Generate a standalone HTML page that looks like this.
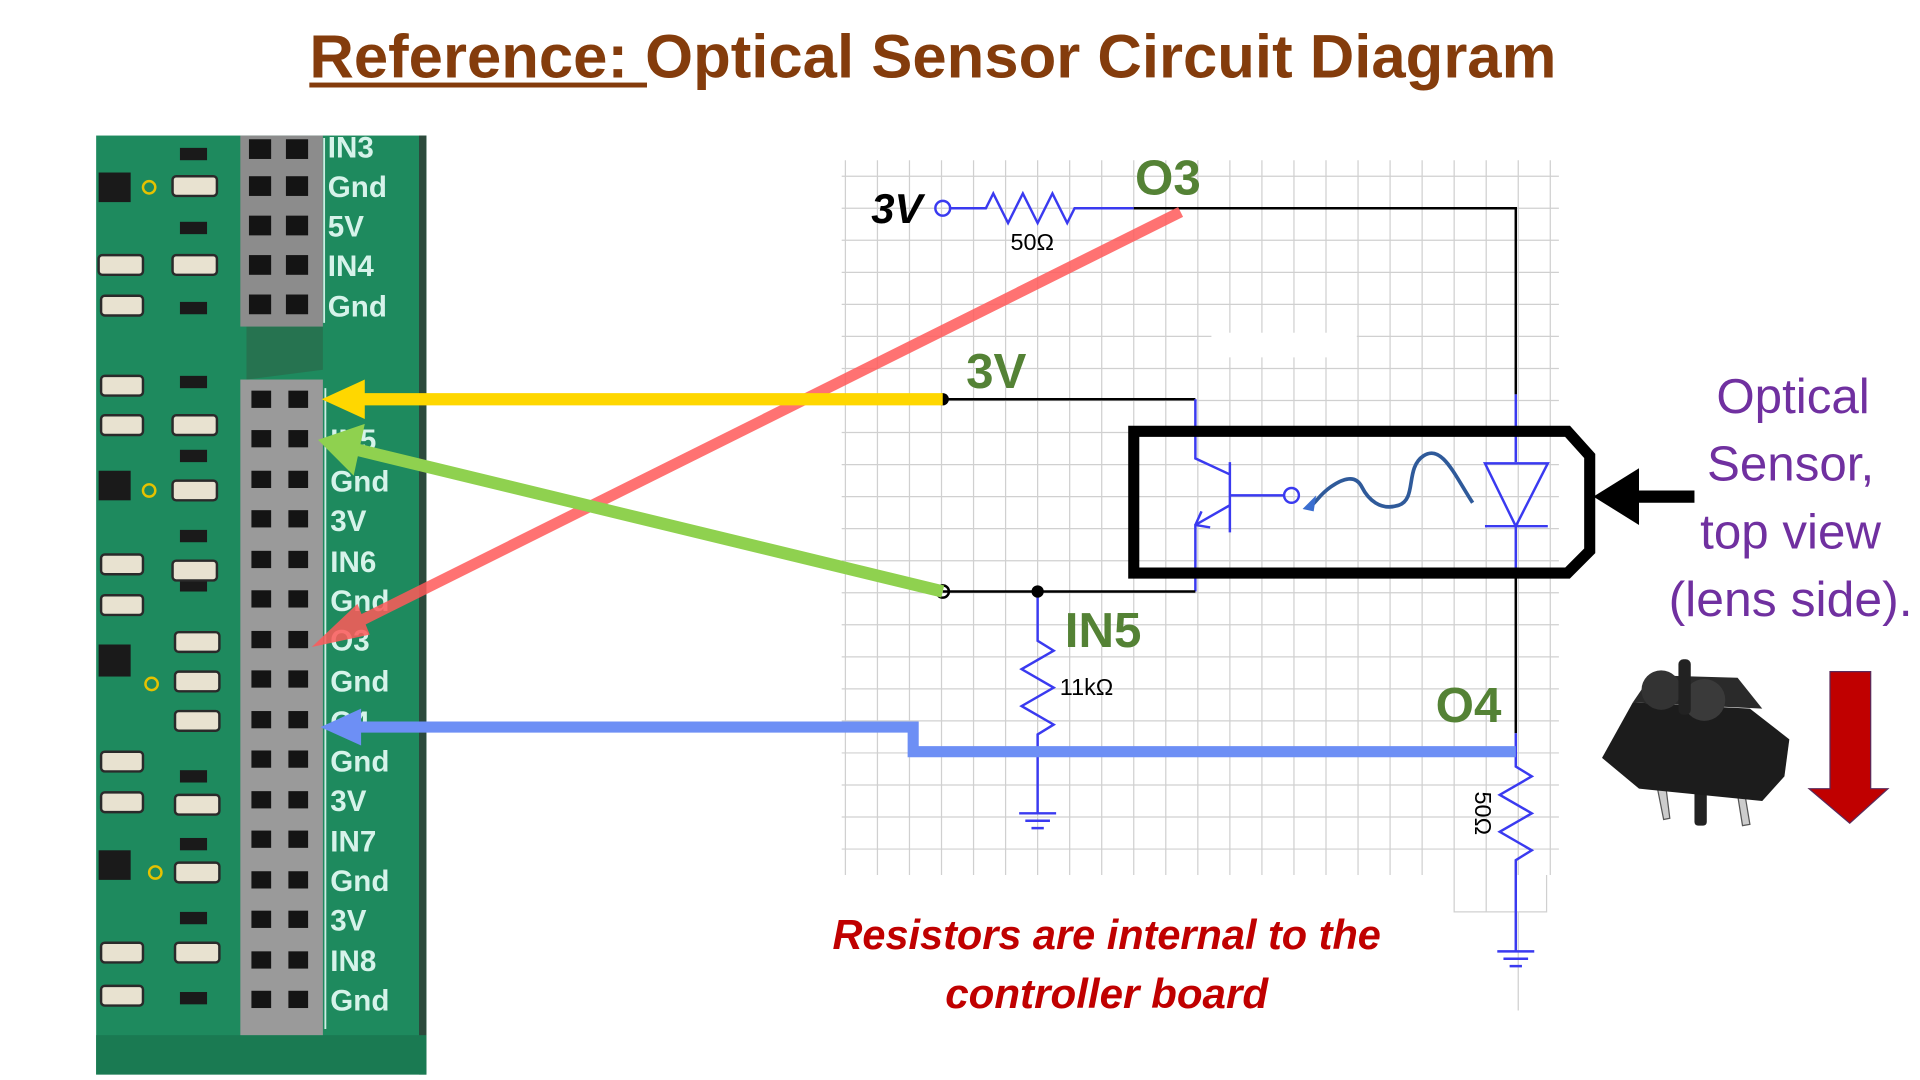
<!DOCTYPE html>
<html><head><meta charset="utf-8"><style>html,body{margin:0;padding:0;background:#fff;}svg{display:block}</style></head>
<body>
<svg width="1920" height="1080" viewBox="0 0 1558 876.4" xmlns="http://www.w3.org/2000/svg" font-family="Liberation Sans, sans-serif">
<rect width="1558" height="877" fill="#fff"/>
<text x="251" y="63" font-size="50" font-weight="bold" fill="#843c0c" textLength="1012" lengthAdjust="spacingAndGlyphs">Reference: Optical Sensor Circuit Diagram</text>
<rect x="251" y="67" width="274" height="4" fill="#843c0c"/>

<g stroke="#d0d0d0" stroke-width="1" fill="none">
<path d="M686 130V710M712 130V710M738 130V710M764 130V710M790 130V710M816 130V710M842 130V710M868 130V710M894 130V710M920 130V710M946 130V710M972 130V710M998 130V710M1024 130V710M1050 130V710M1076 130V710M1102 130V710M1128 130V710M1154 130V710M1180 130V710M1206 130V710M1232 130V710M1258 130V710"/>
<path d="M683 143H1265M683 169H1265M683 195H1265M683 221H1265M683 247H1265M683 273H1265M683 299H1265M683 325H1265M683 351H1265M683 377H1265M683 403H1265M683 429H1265M683 455H1265M683 481H1265M683 507H1265M683 533H1265M683 559H1265M683 585H1265M683 611H1265M683 637H1265M683 663H1265M683 689H1265"/>
<path d="M1180 710V740H1255V710M1232 740V820M1206 710V740"/>
</g>
<rect x="983" y="270" width="118" height="20" fill="#fff"/>

<rect x="78" y="110" width="268" height="762" fill="#1e8a5e"/>
<rect x="340" y="110" width="6" height="762" fill="#2c4a3c"/>
<rect x="78" y="840" width="268" height="32" fill="#1a7a52"/>
<path d="M200 265 L262 265 L262 300 L200 308Z" fill="#2a6a4a" opacity="0.7"/>
<rect x="195" y="110" width="67" height="155" fill="#8c8c8c"/>
<rect x="195" y="308" width="67" height="532" fill="#9a9a9a"/>
<g fill="#141414">
<rect x="202" y="113" width="18" height="16"/><rect x="232" y="113" width="18" height="16"/>
<rect x="202" y="143" width="18" height="16"/><rect x="232" y="143" width="18" height="16"/>
<rect x="202" y="175" width="18" height="16"/><rect x="232" y="175" width="18" height="16"/>
<rect x="202" y="207" width="18" height="16"/><rect x="232" y="207" width="18" height="16"/>
<rect x="202" y="239" width="18" height="16"/><rect x="232" y="239" width="18" height="16"/>
</g>
<g fill="#141414">
<rect x="204" y="317" width="16" height="14"/><rect x="234" y="317" width="16" height="14"/>
<rect x="204" y="349" width="16" height="14"/><rect x="234" y="349" width="16" height="14"/>
<rect x="204" y="382" width="16" height="14"/><rect x="234" y="382" width="16" height="14"/>
<rect x="204" y="414" width="16" height="14"/><rect x="234" y="414" width="16" height="14"/>
<rect x="204" y="447" width="16" height="14"/><rect x="234" y="447" width="16" height="14"/>
<rect x="204" y="479" width="16" height="14"/><rect x="234" y="479" width="16" height="14"/>
<rect x="204" y="512" width="16" height="14"/><rect x="234" y="512" width="16" height="14"/>
<rect x="204" y="544" width="16" height="14"/><rect x="234" y="544" width="16" height="14"/>
<rect x="204" y="577" width="16" height="14"/><rect x="234" y="577" width="16" height="14"/>
<rect x="204" y="609" width="16" height="14"/><rect x="234" y="609" width="16" height="14"/>
<rect x="204" y="642" width="16" height="14"/><rect x="234" y="642" width="16" height="14"/>
<rect x="204" y="674" width="16" height="14"/><rect x="234" y="674" width="16" height="14"/>
<rect x="204" y="707" width="16" height="14"/><rect x="234" y="707" width="16" height="14"/>
<rect x="204" y="739" width="16" height="14"/><rect x="234" y="739" width="16" height="14"/>
<rect x="204" y="772" width="16" height="14"/><rect x="234" y="772" width="16" height="14"/>
<rect x="204" y="804" width="16" height="14"/><rect x="234" y="804" width="16" height="14"/>
</g>
<path d="M263 112V262M264 315V835" stroke="#cdeee4" stroke-width="1.5"/>
<g fill="#d6f3ea" font-size="24" font-weight="bold">
<text x="266" y="128">IN3</text><text x="266" y="160">Gnd</text><text x="266" y="192">5V</text><text x="266" y="224">IN4</text><text x="266" y="257">Gnd</text>
<text x="268" y="365">IN5</text><text x="268" y="399">Gnd</text><text x="268" y="431">3V</text><text x="268" y="464">IN6</text><text x="268" y="496">Gnd</text><text x="268" y="528">O3</text><text x="268" y="561">Gnd</text><text x="268" y="594">O4</text><text x="268" y="626">Gnd</text><text x="268" y="658">3V</text><text x="268" y="691">IN7</text><text x="268" y="723">Gnd</text><text x="268" y="755">3V</text><text x="268" y="788">IN8</text><text x="268" y="820">Gnd</text>
</g>
<g fill="#1a1a1a">
<rect x="80" y="140" width="26" height="24"/><rect x="80" y="382" width="26" height="24"/><rect x="80" y="523" width="26" height="26"/><rect x="80" y="690" width="26" height="24"/>
<rect x="146" y="120" width="22" height="10"/><rect x="146" y="180" width="22" height="10"/><rect x="146" y="245" width="22" height="10"/><rect x="146" y="305" width="22" height="10"/><rect x="146" y="365" width="22" height="10"/><rect x="146" y="430" width="22" height="10"/><rect x="146" y="470" width="22" height="10"/><rect x="146" y="625" width="22" height="10"/><rect x="146" y="680" width="22" height="10"/><rect x="146" y="740" width="22" height="10"/><rect x="146" y="805" width="22" height="10"/>
</g>
<g fill="#e8e2d0" stroke="#2a2a2a" stroke-width="2">
<rect x="140" y="143" width="36" height="16" rx="3"/><rect x="140" y="207" width="36" height="16" rx="3"/><rect x="80" y="207" width="36" height="16" rx="3"/><rect x="82" y="240" width="34" height="16" rx="3"/>
<rect x="82" y="305" width="34" height="16" rx="3"/><rect x="82" y="337" width="34" height="16" rx="3"/><rect x="140" y="337" width="36" height="16" rx="3"/><rect x="140" y="390" width="36" height="16" rx="3"/>
<rect x="82" y="450" width="34" height="16" rx="3"/><rect x="140" y="455" width="36" height="16" rx="3"/><rect x="82" y="483" width="34" height="16" rx="3"/><rect x="142" y="513" width="36" height="16" rx="3"/><rect x="142" y="545" width="36" height="16" rx="3"/><rect x="142" y="577" width="36" height="16" rx="3"/>
<rect x="82" y="610" width="34" height="16" rx="3"/><rect x="82" y="643" width="34" height="16" rx="3"/><rect x="142" y="645" width="36" height="16" rx="3"/><rect x="142" y="700" width="36" height="16" rx="3"/>
<rect x="82" y="765" width="34" height="16" rx="3"/><rect x="142" y="765" width="36" height="16" rx="3"/><rect x="82" y="800" width="34" height="16" rx="3"/>
</g>
<g fill="none" stroke="#e6c200" stroke-width="2"><circle cx="121" cy="152" r="5"/><circle cx="121" cy="398" r="5"/><circle cx="123" cy="555" r="5"/><circle cx="126" cy="708" r="5"/></g>

<g fill="none" stroke-width="2">
<path d="M770 169H800L806 157L818 181L830 157L842 181L854 157L866 181L872 169H920" stroke="#3a3af0"/>
<path d="M920 169H1230V320" stroke="#000"/>
<path d="M1230 320V375M1230 427V465" stroke="#3a3af0"/>
<path d="M1230 465V595" stroke="#000"/>
<path d="M1230 595V622L1243 630L1217 645L1243 660L1217 675L1243 690L1230 698V772" stroke="#3a3af0"/>
<path d="M1215 772H1245M1220 778H1240M1225 784H1235" stroke="#3a3af0"/>
<path d="M765 324H970" stroke="#000"/>
<path d="M970 324V372L998 385M998 375V432M998 402H1042M998 410L970 426V480" stroke="#3a3af0"/>
<path d="M970 426L975 415M970 426L982 428" stroke="#3a3af0"/>
<path d="M970 480H765" stroke="#000"/>
<path d="M842 480V520L855 528L829 543L855 558L829 573L855 588L842 596V660M827 660H857M832 666H852M837 672H847" stroke="#3a3af0"/>
<circle cx="765" cy="169" r="6" stroke="#3a3af0"/>
<circle cx="1048" cy="402" r="6" stroke="#3a3af0"/>
<path d="M1205 376H1256L1230 427Z M1205 427H1256" stroke="#3a3af0"/>
<path d="M1195 408C1180 385 1170 360 1155 370C1140 380 1150 405 1135 410C1120 415 1110 405 1105 395C1100 385 1090 388 1080 395C1070 402 1068 408 1062 412" stroke="#2f5a9a" stroke-width="3"/>
</g>
<path d="M1057 413L1068 402L1066 415Z" fill="#3a6ed0"/>
<circle cx="765" cy="324" r="5" fill="#000"/>
<circle cx="842" cy="480" r="5" fill="#000"/>
<circle cx="765" cy="480" r="5" fill="none" stroke="#000" stroke-width="2"/>

<path d="M920 350H1272L1290 370V447L1272 465H920Z" fill="none" stroke="#000" stroke-width="9"/>
<path d="M1375 403H1325" stroke="#000" stroke-width="10"/>
<path d="M1293 403L1330 380V426Z" fill="#000"/>

<g opacity="0.85">
<path d="M958 172L280 510" stroke="#ff5a5a" stroke-width="9"/>
<path d="M253 525L290 490L300 515Z" fill="#ff5a5a"/>
</g>
<path d="M765 324H295" stroke="#ffd700" stroke-width="10"/>
<path d="M261 324L296 308V340Z" fill="#ffd700"/>
<path d="M765 480L290 365" stroke="#8fd14f" stroke-width="10"/>
<path d="M258 357L296 344L287 386Z" fill="#8fd14f"/>
<path d="M1230 610H741V590H290" stroke="#6d8ff5" stroke-width="9" fill="none"/>
<path d="M260 590L293 575V605Z" fill="#6d8ff5"/>

<g font-weight="bold" fill="#548235">
<text x="921" y="158" font-size="40">O3</text>
<text x="784" y="315" font-size="40">3V</text>
<text x="864" y="525" font-size="40">IN5</text>
<text x="1165" y="586" font-size="40">O4</text>
</g>
<text x="707" y="181" font-size="34" font-weight="bold" font-style="italic">3V</text>
<text x="820" y="203" font-size="19">50Ω</text>
<text x="860" y="564" font-size="19">11kΩ</text>
<text x="1197" y="660" font-size="19" transform="rotate(90 1197 660)" text-anchor="middle">50Ω</text>
<g font-size="34" font-weight="bold" font-style="italic" fill="#c00000" text-anchor="middle">
<text x="898" y="770" textLength="445" lengthAdjust="spacingAndGlyphs">Resistors are internal to the</text>
<text x="898" y="818" textLength="262" lengthAdjust="spacingAndGlyphs">controller board</text>
</g>
<g font-size="40" fill="#7030a0" text-anchor="middle">
<text x="1455" y="335">Optical</text>
<text x="1453" y="390">Sensor,</text>
<text x="1453" y="445">top view</text>
<text x="1453" y="500" textLength="198" lengthAdjust="spacingAndGlyphs">(lens side).</text>
</g>

<g>
<path d="M1345 640L1350 665L1355 664L1352 640Z M1410 645L1414 670L1420 669L1416 645Z" fill="#ccc" stroke="#555"/>
<rect x="1375" y="630" width="10" height="40" rx="3" fill="#222"/>
<path d="M1325 570L1420 575L1452 600L1448 630L1430 650L1330 640L1300 615Z" fill="#1c1c1c"/>
<path d="M1325 570L1340 548L1410 550L1430 575Z" fill="#2a2a2a"/>
<circle cx="1348" cy="560" r="16" fill="#333"/>
<circle cx="1383" cy="568" r="17" fill="#3a3a3a"/>
<rect x="1362" y="535" width="10" height="45" rx="4" fill="#222"/>
</g>
<path d="M1485 545H1518V640H1532L1501 668L1468 640H1485Z" fill="#c00000" stroke="#5a2a5a" stroke-width="1"/>
</svg>
</body></html>
